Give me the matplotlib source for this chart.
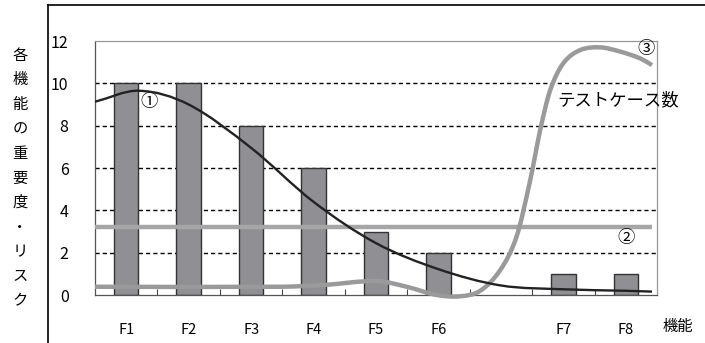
import matplotlib
matplotlib.use("Agg")
import matplotlib.pyplot as plt
from matplotlib.path import Path
from matplotlib.patches import PathPatch
from matplotlib.lines import Line2D
import numpy as np

plt.rcParams["font.family"] = ["Noto Sans CJK JP", "DejaVu Sans"]

# --- data ------------------------------------------------------------------
categories = ["F1", "F2", "F3", "F4", "F5", "F6", "", "F7", "F8"]
importance = [10, 10, 8, 6, 3, 2, np.nan, 1, 1]      # bars (slot 6 is empty)

# (1) risk curve, sampled along the x slots
risk_x = [-0.5, 0.2, 1.0, 2.0, 3.0, 4.0, 5.0, 6.0, 7.0, 8.0, 8.42]
risk_y = [9.13, 9.65, 9.0, 6.95, 4.4, 2.45, 1.22, 0.45, 0.27, 0.2, 0.16]

# (2) flat level
level = 3.23

# (3) test-case count curve
tc_x = [-0.5, 2.46, 3.15, 4.01, 4.49, 4.97, 5.35, 5.67, 5.99, 6.25, 6.47,
        6.63, 6.79, 7.0, 7.27, 7.59, 7.91, 8.23, 8.42]
tc_y = [0.39, 0.39, 0.47, 0.66, 0.39, 0.0, -0.06, 0.2, 1.18, 2.75, 5.43,
        7.8, 9.68, 10.95, 11.57, 11.7, 11.5, 11.18, 10.86]


def smooth_path(xs, ys):
    """Hermite-style bezier through the points (like Excel's smoothed line)."""
    xs = np.asarray(xs, float)
    ys = np.asarray(ys, float)
    n = len(xs)
    m = np.empty(n)
    m[0] = (ys[1] - ys[0]) / (xs[1] - xs[0])
    m[-1] = (ys[-1] - ys[-2]) / (xs[-1] - xs[-2])
    m[1:-1] = (ys[2:] - ys[:-2]) / (xs[2:] - xs[:-2])
    verts = [(xs[0], ys[0])]
    codes = [Path.MOVETO]
    for i in range(n - 1):
        h = (xs[i + 1] - xs[i]) / 3
        verts += [(xs[i] + h, ys[i] + m[i] * h),
                  (xs[i + 1] - h, ys[i + 1] - m[i + 1] * h),
                  (xs[i + 1], ys[i + 1])]
        codes += [Path.CURVE4] * 3
    return Path(verts, codes)


fig = plt.figure(figsize=(7.05, 3.43), dpi=100)
ax = fig.add_axes([95 / 705, 1 - 295 / 343, 562 / 705, 254 / 343])

x = np.arange(len(categories))
ax.bar(x, importance, width=0.39, color="#909094", edgecolor="#333333",
       lw=1.0, zorder=2)

for v in [2, 4, 6, 8, 10]:
    ax.axhline(v, color="black", lw=1.0, ls=(0, (3, 2.2)), zorder=1)

ax.plot([-0.5, 8.42], [level, level], color="#a6a6a6", lw=3.2,
        solid_capstyle="butt", zorder=3)
ax.add_patch(PathPatch(smooth_path(tc_x, tc_y), fc="none", ec="#9a9a9a",
                       lw=3.2, zorder=3, clip_on=False, capstyle="butt"))
ax.add_patch(PathPatch(smooth_path(risk_x, risk_y), fc="none", ec="#222222",
                       lw=1.7, zorder=4, capstyle="butt"))

ax.set_xlim(-0.5, 8.5)
ax.set_ylim(0, 12)
ax.set_yticks(range(0, 13, 2))
ax.tick_params(axis="y", length=0, pad=19, labelsize=11.5)
ax.set_xticks(x)
ax.set_xticklabels(categories)
ax.tick_params(axis="x", which="major", length=0, pad=20, labelsize=10.5)
ax.set_xticks(np.arange(0.5, 8, 1), minor=True)
ax.tick_params(axis="x", which="minor", direction="in", length=4,
               color="#444444", width=0.8)

for side in ["top", "right"]:
    ax.spines[side].set_color("#999999")
for side in ["left", "bottom"]:
    ax.spines[side].set_color("#555555")
for s in ax.spines.values():
    s.set_linewidth(0.9)

ax.text(0.36, 9.1, "①", fontsize=12.5, ha="center", va="center")
ax.text(8.0, 2.68, "②", fontsize=12.5, ha="center", va="center")
ax.text(8.32, 11.6, "③", fontsize=12.5, ha="center", va="center")
ax.text(6.9, 9.2, "テストケース数", fontsize=12.5, ha="left", va="center")

fig.text(663 / 705, 1 - 326 / 343, "機能", fontsize=11, ha="left",
         va="center")
fig.text(20 / 705, 1 - 178 / 343,
         "各\n機\n能\nの\n重\n要\n度\n・\nリ\nス\nク",
         fontsize=11, ha="center", va="center", linespacing=1.58)

# figure frame: left and top rules
fig.add_artist(Line2D([48 / 705, 48 / 705], [0, 1 - 5 / 343],
                      color="black", lw=1.2))
fig.add_artist(Line2D([48 / 705, 1], [1 - 5 / 343, 1 - 5 / 343],
                      color="black", lw=1.2))

fig.savefig("out.png", dpi=100)
